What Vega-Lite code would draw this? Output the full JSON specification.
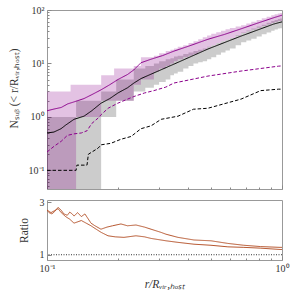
{
  "$schema": "https://vega.github.io/schema/vega-lite/v6.json",
  "padding": {"left": 0, "top": 4, "right": 12, "bottom": 0},
  "config": {
    "font": "Liberation Serif",
    "view": {"stroke": "#999999", "strokeWidth": 1},
    "axis": {"domain": false, "grid": false, "tickColor": "#888888", "labelFont": "Liberation Serif", "labelFontSize": 10, "labelColor": "#333333", "titleFont": "Liberation Serif", "titleFontSize": 11.5, "titleFontWeight": "normal", "titleColor": "#333333", "labelFlush": false, "labelOverlap": false},
    "axisY": {"minExtent": 46, "maxExtent": 46},
    "concat": {"spacing": 4}
  },
  "datasets": {
    "gb": [
      {"x": 0.1, "lo": 0.01, "hi": 1},
      {"x": 0.133, "lo": 0.01, "hi": 2},
      {"x": 0.17, "lo": 1, "hi": 3},
      {"x": 0.197, "lo": 2, "hi": 5},
      {"x": 0.234, "lo": 3, "hi": 8},
      {"x": 0.262, "lo": 3.5, "hi": 9},
      {"x": 0.285, "lo": 4, "hi": 10},
      {"x": 0.3, "lo": 4.5, "hi": 11},
      {"x": 0.32, "lo": 5, "hi": 12},
      {"x": 0.335, "lo": 6, "hi": 12.5},
      {"x": 0.347, "lo": 6.5, "hi": 13.5},
      {"x": 0.36, "lo": 7, "hi": 14},
      {"x": 0.38, "lo": 8, "hi": 15},
      {"x": 0.4, "lo": 9, "hi": 16},
      {"x": 0.42, "lo": 10, "hi": 17},
      {"x": 0.44, "lo": 10.5, "hi": 18},
      {"x": 0.46, "lo": 11, "hi": 19},
      {"x": 0.48, "lo": 12, "hi": 20.5},
      {"x": 0.5, "lo": 13, "hi": 22},
      {"x": 0.525, "lo": 14.5, "hi": 24},
      {"x": 0.55, "lo": 16, "hi": 26},
      {"x": 0.575, "lo": 17.5, "hi": 28},
      {"x": 0.6, "lo": 19, "hi": 30},
      {"x": 0.635, "lo": 22, "hi": 34},
      {"x": 0.67, "lo": 25, "hi": 38},
      {"x": 0.705, "lo": 27, "hi": 41.5},
      {"x": 0.74, "lo": 29, "hi": 45},
      {"x": 0.78, "lo": 32, "hi": 49},
      {"x": 0.82, "lo": 35, "hi": 53},
      {"x": 0.86, "lo": 38, "hi": 57.5},
      {"x": 0.9, "lo": 41, "hi": 62},
      {"x": 0.93, "lo": 43, "hi": 65},
      {"x": 0.96, "lo": 45, "hi": 68},
      {"x": 0.98, "lo": 45.5, "hi": 69},
      {"x": 1.0, "lo": 46, "hi": 70}
    ],
    "pb": [
      {"x": 0.1, "lo": 0.01, "hi": 3},
      {"x": 0.126, "lo": 0.01, "hi": 4},
      {"x": 0.133, "lo": 1, "hi": 4},
      {"x": 0.17, "lo": 2, "hi": 6},
      {"x": 0.193, "lo": 2, "hi": 8},
      {"x": 0.234, "lo": 4, "hi": 9},
      {"x": 0.251, "lo": 5, "hi": 13},
      {"x": 0.285, "lo": 7, "hi": 14},
      {"x": 0.3, "lo": 8, "hi": 15.5},
      {"x": 0.32, "lo": 9, "hi": 17},
      {"x": 0.335, "lo": 10, "hi": 18},
      {"x": 0.347, "lo": 11, "hi": 19},
      {"x": 0.36, "lo": 12, "hi": 20.5},
      {"x": 0.38, "lo": 13, "hi": 22},
      {"x": 0.4, "lo": 14, "hi": 24},
      {"x": 0.42, "lo": 15, "hi": 26},
      {"x": 0.44, "lo": 16.5, "hi": 28.5},
      {"x": 0.46, "lo": 18, "hi": 31},
      {"x": 0.48, "lo": 20, "hi": 33.5},
      {"x": 0.5, "lo": 22, "hi": 36},
      {"x": 0.525, "lo": 24, "hi": 38.5},
      {"x": 0.55, "lo": 26, "hi": 41},
      {"x": 0.575, "lo": 28, "hi": 43.5},
      {"x": 0.6, "lo": 30, "hi": 46},
      {"x": 0.635, "lo": 33.5, "hi": 49},
      {"x": 0.67, "lo": 37, "hi": 52},
      {"x": 0.705, "lo": 40, "hi": 56},
      {"x": 0.74, "lo": 43, "hi": 60},
      {"x": 0.78, "lo": 46.5, "hi": 65},
      {"x": 0.82, "lo": 50, "hi": 70},
      {"x": 0.86, "lo": 53.5, "hi": 75},
      {"x": 0.9, "lo": 57, "hi": 80},
      {"x": 0.93, "lo": 59.5, "hi": 83},
      {"x": 0.96, "lo": 62, "hi": 86},
      {"x": 0.98, "lo": 62.5, "hi": 88},
      {"x": 1.0, "lo": 63, "hi": 90}
    ],
    "lines": [
      {"s": "pur", "x": 0.1, "y": 1.3},
      {"s": "pur", "x": 0.107, "y": 1.4},
      {"s": "pur", "x": 0.115, "y": 1.5},
      {"s": "pur", "x": 0.1225, "y": 1.75},
      {"s": "pur", "x": 0.13, "y": 1.9},
      {"s": "pur", "x": 0.1437, "y": 2.2},
      {"s": "pur", "x": 0.155, "y": 2.6},
      {"s": "pur", "x": 0.1697, "y": 3.2},
      {"s": "pur", "x": 0.185, "y": 4.0},
      {"s": "pur", "x": 0.2004, "y": 5.0},
      {"s": "pur", "x": 0.22, "y": 6.2},
      {"s": "pur", "x": 0.2344, "y": 7.6},
      {"s": "pur", "x": 0.2511, "y": 10.3},
      {"s": "pur", "x": 0.2772, "y": 12},
      {"s": "pur", "x": 0.31, "y": 14},
      {"s": "pur", "x": 0.3469, "y": 17},
      {"s": "pur", "x": 0.4, "y": 21},
      {"s": "pur", "x": 0.4839, "y": 28.3},
      {"s": "pur", "x": 0.57, "y": 35},
      {"s": "pur", "x": 0.6695, "y": 44.4},
      {"s": "pur", "x": 0.78, "y": 56},
      {"s": "pur", "x": 0.9224, "y": 71.7},
      {"s": "pur", "x": 1.0, "y": 80},
      {"s": "blk", "x": 0.1, "y": 0.5},
      {"s": "blk", "x": 0.107, "y": 0.52},
      {"s": "blk", "x": 0.1147, "y": 0.6},
      {"s": "blk", "x": 0.12, "y": 0.7},
      {"s": "blk", "x": 0.1303, "y": 0.9},
      {"s": "blk", "x": 0.1437, "y": 1.03},
      {"s": "blk", "x": 0.155, "y": 1.3},
      {"s": "blk", "x": 0.1697, "y": 1.8},
      {"s": "blk", "x": 0.185, "y": 2.2},
      {"s": "blk", "x": 0.2004, "y": 2.8},
      {"s": "blk", "x": 0.22, "y": 3.5},
      {"s": "blk", "x": 0.2344, "y": 4.3},
      {"s": "blk", "x": 0.2511, "y": 5.2},
      {"s": "blk", "x": 0.2772, "y": 6.3},
      {"s": "blk", "x": 0.3469, "y": 9.7},
      {"s": "blk", "x": 0.4839, "y": 18.6},
      {"s": "blk", "x": 0.6695, "y": 32.5},
      {"s": "blk", "x": 0.9224, "y": 54.6},
      {"s": "blk", "x": 1.0, "y": 60},
      {"s": "purd", "x": 0.1, "y": 0.22},
      {"s": "purd", "x": 0.107, "y": 0.28},
      {"s": "purd", "x": 0.115, "y": 0.35},
      {"s": "purd", "x": 0.122, "y": 0.45},
      {"s": "purd", "x": 0.13, "y": 0.48},
      {"s": "purd", "x": 0.14, "y": 0.5},
      {"s": "purd", "x": 0.148, "y": 0.55},
      {"s": "purd", "x": 0.155, "y": 0.75},
      {"s": "purd", "x": 0.165, "y": 0.95},
      {"s": "purd", "x": 0.17, "y": 1.1},
      {"s": "purd", "x": 0.182, "y": 1.45},
      {"s": "purd", "x": 0.2, "y": 1.8},
      {"s": "purd", "x": 0.234, "y": 2.4},
      {"s": "purd", "x": 0.26, "y": 2.8},
      {"s": "purd", "x": 0.285, "y": 3.1},
      {"s": "purd", "x": 0.32, "y": 3.6},
      {"s": "purd", "x": 0.347, "y": 4.3},
      {"s": "purd", "x": 0.4839, "y": 5.8},
      {"s": "purd", "x": 0.6695, "y": 7.2},
      {"s": "purd", "x": 0.9676, "y": 8.9},
      {"s": "purd", "x": 1.0, "y": 9.0},
      {"s": "blkd", "x": 0.1, "y": 0.1},
      {"s": "blkd", "x": 0.133, "y": 0.1},
      {"s": "blkd", "x": 0.134, "y": 0.125},
      {"s": "blkd", "x": 0.148, "y": 0.125},
      {"s": "blkd", "x": 0.15, "y": 0.2},
      {"s": "blkd", "x": 0.165, "y": 0.26},
      {"s": "blkd", "x": 0.17, "y": 0.3},
      {"s": "blkd", "x": 0.187, "y": 0.32},
      {"s": "blkd", "x": 0.206, "y": 0.38},
      {"s": "blkd", "x": 0.228, "y": 0.43},
      {"s": "blkd", "x": 0.251, "y": 0.6},
      {"s": "blkd", "x": 0.2772, "y": 0.68},
      {"s": "blkd", "x": 0.306, "y": 0.9},
      {"s": "blkd", "x": 0.361, "y": 1.03},
      {"s": "blkd", "x": 0.42, "y": 1.39},
      {"s": "blkd", "x": 0.4839, "y": 1.45},
      {"s": "blkd", "x": 0.6695, "y": 2.15},
      {"s": "blkd", "x": 0.812, "y": 3.1},
      {"s": "blkd", "x": 0.9676, "y": 3.3},
      {"s": "blkd", "x": 1.0, "y": 3.3}
    ],
    "ratio": [
      {"s": "a", "x": 0.1, "r": 2.7},
      {"s": "a", "x": 0.102, "r": 2.6},
      {"s": "a", "x": 0.105, "r": 2.55},
      {"s": "a", "x": 0.108, "r": 2.65},
      {"s": "a", "x": 0.1114, "r": 2.8},
      {"s": "a", "x": 0.1147, "r": 2.7},
      {"s": "a", "x": 0.118, "r": 2.55},
      {"s": "a", "x": 0.122, "r": 2.5},
      {"s": "a", "x": 0.125, "r": 2.62},
      {"s": "a", "x": 0.128, "r": 2.55},
      {"s": "a", "x": 0.1303, "r": 2.47},
      {"s": "a", "x": 0.135, "r": 2.6},
      {"s": "a", "x": 0.14, "r": 2.45},
      {"s": "a", "x": 0.145, "r": 2.55},
      {"s": "a", "x": 0.1539, "r": 2.2},
      {"s": "a", "x": 0.16, "r": 2.1},
      {"s": "a", "x": 0.1697, "r": 1.97},
      {"s": "a", "x": 0.18, "r": 2.05},
      {"s": "a", "x": 0.19, "r": 2.1},
      {"s": "a", "x": 0.2064, "r": 2.17},
      {"s": "a", "x": 0.22, "r": 2.1},
      {"s": "a", "x": 0.2391, "r": 2.13},
      {"s": "a", "x": 0.26, "r": 2.05},
      {"s": "a", "x": 0.2772, "r": 1.97},
      {"s": "a", "x": 0.3056, "r": 1.85},
      {"s": "a", "x": 0.3208, "r": 1.78},
      {"s": "a", "x": 0.3609, "r": 1.66},
      {"s": "a", "x": 0.4222, "r": 1.56},
      {"s": "a", "x": 0.4986, "r": 1.53},
      {"s": "a", "x": 0.5883, "r": 1.43},
      {"s": "a", "x": 0.6878, "r": 1.36},
      {"s": "a", "x": 0.812, "r": 1.31},
      {"s": "a", "x": 0.9806, "r": 1.28},
      {"s": "a", "x": 1.0, "r": 1.28},
      {"s": "b", "x": 0.1, "r": 2.7},
      {"s": "b", "x": 0.104, "r": 2.6},
      {"s": "b", "x": 0.108, "r": 2.68},
      {"s": "b", "x": 0.1114, "r": 2.75},
      {"s": "b", "x": 0.115, "r": 2.6},
      {"s": "b", "x": 0.12, "r": 2.45},
      {"s": "b", "x": 0.125, "r": 2.35},
      {"s": "b", "x": 0.1303, "r": 2.2},
      {"s": "b", "x": 0.14, "r": 2.3},
      {"s": "b", "x": 0.1539, "r": 2.1},
      {"s": "b", "x": 0.16, "r": 2.0},
      {"s": "b", "x": 0.17, "r": 1.85},
      {"s": "b", "x": 0.1818, "r": 1.72},
      {"s": "b", "x": 0.195, "r": 1.68},
      {"s": "b", "x": 0.2126, "r": 1.66},
      {"s": "b", "x": 0.2391, "r": 1.72},
      {"s": "b", "x": 0.26, "r": 1.68},
      {"s": "b", "x": 0.2772, "r": 1.62},
      {"s": "b", "x": 0.3208, "r": 1.53},
      {"s": "b", "x": 0.3609, "r": 1.47},
      {"s": "b", "x": 0.4222, "r": 1.4},
      {"s": "b", "x": 0.4986, "r": 1.36},
      {"s": "b", "x": 0.5883, "r": 1.3},
      {"s": "b", "x": 0.6878, "r": 1.28},
      {"s": "b", "x": 0.812, "r": 1.25},
      {"s": "b", "x": 0.9806, "r": 1.2},
      {"s": "b", "x": 1.0, "r": 1.2}
    ]
  },
  "vconcat": [
    {
      "width": 235,
      "height": 179,
      "layer": [
        {
          "data": {"name": "gb"},
          "mark": {"type": "area", "interpolate": "step-after", "color": "#000000", "opacity": 0.2, "clip": true},
          "encoding": {
            "x": {"field": "x", "type": "quantitative",
              "scale": {"type": "log", "domain": [0.1, 1], "nice": false},
              "axis": {"title": null, "labels": false, "minExtent": 0, "maxExtent": 0,
                "values": [0.1, 0.2, 0.3, 0.4, 0.5, 0.6, 0.7, 0.8, 0.9, 1],
                "tickSize": {"condition": {"test": "datum.value == 0.1 || datum.value == 1", "value": -4}, "value": -2}}},
            "y": {"field": "lo", "type": "quantitative",
              "scale": {"type": "log", "domain": [0.0447, 100], "nice": false},
              "axis": {"title": "Nₛᵤᵦ (< r/Rᵥᵢᵣ,ₕₒₛₜ)", "titleX": -33, "titleY": 78, "titleBaseline": "middle", "titleAlign": "center",
                "values": [0.05, 0.06, 0.07, 0.08, 0.09, 0.1, 0.2, 0.3, 0.4, 0.5, 0.6, 0.7, 0.8, 0.9, 1, 2, 3, 4, 5, 6, 7, 8, 9, 10, 20, 30, 40, 50, 60, 70, 80, 90, 100],
                "labelExpr": "datum.value == 100 ? '10²' : datum.value == 10 ? '10¹' : datum.value == 1 ? '10⁰' : datum.value == 0.1 ? '10⁻¹' : ''",
                "labelPadding": 7,
                "tickSize": {"condition": {"test": "datum.value == 0.1 || datum.value == 1 || datum.value == 10 || datum.value == 100", "value": -4}, "value": -2}}},
            "y2": {"field": "hi"}
          }
        },
        {
          "data": {"name": "pb"},
          "mark": {"type": "area", "interpolate": "step-after", "color": "#8b008b", "opacity": 0.24, "clip": true},
          "encoding": {
            "x": {"field": "x", "type": "quantitative"},
            "y": {"field": "lo", "type": "quantitative"},
            "y2": {"field": "hi"}
          }
        },
        {
          "data": {"name": "lines"},
          "mark": {"type": "line", "strokeWidth": 1, "clip": true},
          "encoding": {
            "x": {"field": "x", "type": "quantitative"},
            "y": {"field": "y", "type": "quantitative"},
            "color": {"field": "s", "type": "nominal", "legend": null,
              "scale": {"domain": ["pur", "blk", "purd", "blkd"], "range": ["#8b008b", "#000000", "#8b008b", "#000000"]}},
            "strokeDash": {"field": "s", "type": "nominal", "legend": null,
              "scale": {"domain": ["pur", "blk", "purd", "blkd"], "range": [[1, 0], [1, 0], [3.5, 2], [3.5, 2]]}}
          }
        }
      ]
    },
    {
      "width": 235,
      "height": 60,
      "layer": [
        {
          "data": {"name": "ratio"},
          "mark": {"type": "line", "strokeWidth": 1, "color": "#b5532b", "clip": true},
          "encoding": {
            "x": {"field": "x", "type": "quantitative",
              "scale": {"type": "log", "domain": [0.1, 1], "nice": false},
              "axis": {"title": "r/Rᵥᵢᵣ,ₕₒₛₜ", "titleFontStyle": "italic", "titlePadding": 3,
                "values": [0.1, 0.2, 0.3, 0.4, 0.5, 0.6, 0.7, 0.8, 0.9, 1],
                "labelExpr": "datum.value == 1 ? '10⁰' : datum.value == 0.1 ? '10⁻¹' : ''",
                "labelPadding": 7,
                "tickSize": {"condition": {"test": "datum.value == 0.1 || datum.value == 1", "value": -4}, "value": -2}}},
            "y": {"field": "r", "type": "quantitative",
              "scale": {"domain": [0.8, 3.08], "nice": false, "zero": false},
              "axis": {"title": "Ratio", "titleX": -23, "titleY": 30, "titleBaseline": "middle", "titleAlign": "center",
                "values": [1, 2, 3], "labelPadding": 7, "tickSize": -4}},
            "strokeDash": {"field": "s", "type": "nominal", "legend": null,
              "scale": {"domain": ["a", "b"], "range": [[1, 0], [5, 1.5, 1, 1.5]]}}
          }
        },
        {
          "data": {"values": [{}]},
          "mark": {"type": "rule", "strokeDash": [1, 1.5], "color": "#333333", "strokeWidth": 1},
          "encoding": {"y": {"datum": 1}}
        }
      ]
    }
  ]
}
